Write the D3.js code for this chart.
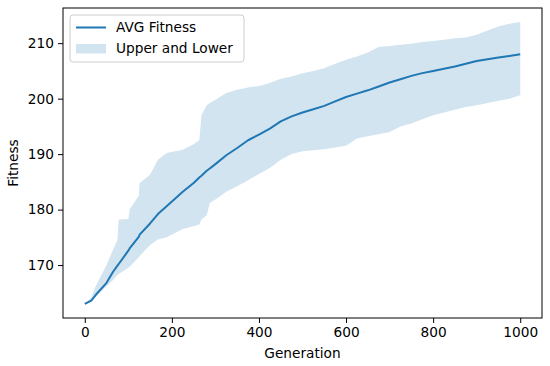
<!DOCTYPE html>
<html>
<head>
<meta charset="utf-8">
<script src="https://cdn.jsdelivr.net/npm/d3@7"></script>
<style>
  html, body { margin: 0; padding: 0; background: #fff; }
  text { font-family: "DejaVu Sans", sans-serif; }
</style>
</head>
<body>
<div id="chart"></div>
<script>
// generations (extra points where the band jumps)
const generations = [0, 15, 25, 50, 65, 75, 78, 100, 103, 124, 126, 150, 168, 188, 225, 250, 263, 268, 280, 287, 300,
  325, 350, 375, 400, 425, 450, 475, 500, 525, 550, 575, 600, 625, 650, 675, 700, 725, 750, 775, 800, 825, 850, 875, 900, 925, 950, 975, 1000];

const avgFitness = [163.0, 163.6, 164.6, 166.8, 168.8, 169.9, 170.2, 172.6, 173.0, 175.1, 175.5, 177.5, 179.2, 180.6, 183.2, 184.8, 185.8, 186.1, 187.0, 187.4, 188.2,
  189.8, 191.1, 192.5, 193.5, 194.6, 195.9, 196.8, 197.5, 198.1, 198.7, 199.5, 200.3, 200.9, 201.5, 202.2, 202.9, 203.5, 204.1, 204.6, 205.0, 205.4, 205.8, 206.3, 206.8, 207.1, 207.4, 207.7, 208.0];

const upperFitness = [163.0, 164.2, 166.2, 170.0, 172.8, 174.5, 178.2, 178.3, 180.0, 182.5, 184.8, 186.3, 189.0, 190.2, 190.8, 191.8, 192.5, 197.0, 198.8, 199.2, 199.8,
  201.0, 201.6, 202.0, 202.3, 202.8, 203.6, 204.0, 204.6, 205.0, 205.5, 206.3, 207.0, 207.6, 208.3, 209.3, 209.5, 209.7, 209.9, 210.2, 210.4, 210.6, 210.9, 211.0, 211.5, 212.3, 213.0, 213.5, 213.8];

const lowerFitness = [163.0, 163.5, 164.4, 166.2, 167.3, 168.2, 168.4, 169.5, 169.7, 171.4, 171.6, 173.6, 174.6, 175.0, 176.5, 177.0, 177.3, 178.2, 179.0, 181.2, 181.8,
  183.2, 184.2, 185.3, 186.4, 187.5, 189.0, 190.0, 190.5, 190.7, 190.9, 191.2, 191.5, 192.8, 193.2, 193.6, 194.0, 195.0, 195.5, 196.3, 197.0, 197.5, 198.0, 198.5, 198.8, 199.2, 199.6, 200.0, 200.6];

const xTicks = [0, 200, 400, 600, 800, 1000];
const yTicks = [170, 180, 190, 200, 210];

const Width = 550, Height = 366;
const Margin = { top: 8, right: 8, bottom: 48, left: 63 };
const innerW = Width - Margin.left - Margin.right;
const innerH = Height - Margin.top - Margin.bottom;
const Blue = '#1f77b4';
const FontSize = 13.7;

const Rows = generations.map((g, i) => ({ gen: g, avg: avgFitness[i], up: upperFitness[i], low: lowerFitness[i] }));

const Svg = d3.select('#chart').append('svg')
  .attr('width', Width)
  .attr('height', Height);

const G = Svg.append('g').attr('transform', `translate(${Margin.left},${Margin.top})`);

// matplotlib style 5% margins
const xMin = d3.min(generations), xMax = d3.max(generations);
const xPad = (xMax - xMin) * 0.05;
const xScale = d3.scaleLinear().domain([xMin - xPad, xMax + xPad]).range([0, innerW]);
const yMin = d3.min(lowerFitness), yMax = d3.max(upperFitness);
const yPad = (yMax - yMin) * 0.05;
const yScale = d3.scaleLinear().domain([yMin - yPad, yMax + yPad]).range([innerH, 0]);

const band = d3.area()
  .x(d => xScale(d.gen))
  .y0(d => yScale(d.low))
  .y1(d => yScale(d.up));

G.append('path')
  .datum(Rows)
  .attr('d', band)
  .attr('fill', Blue)
  .attr('fill-opacity', 0.2);

const line = d3.line()
  .x(d => xScale(d.gen))
  .y(d => yScale(d.avg));

G.append('path')
  .datum(Rows)
  .attr('d', line)
  .attr('fill', 'none')
  .attr('stroke', Blue)
  .attr('stroke-width', 2)
  .attr('stroke-linejoin', 'round');

// axes
const xAxis = G.append('g')
  .attr('transform', `translate(0,${innerH})`)
  .call(d3.axisBottom(xScale).tickValues(xTicks).tickSize(5).tickPadding(4).tickFormat(d3.format('d')));
const yAxis = G.append('g')
  .call(d3.axisLeft(yScale).tickValues(yTicks).tickSize(5).tickPadding(4).tickFormat(d3.format('d')));

[xAxis, yAxis].forEach(ax => {
  ax.select('.domain').remove();
  ax.selectAll('line').attr('stroke', '#000').attr('stroke-width', 1);
  ax.selectAll('text').attr('fill', '#000').style('font-size', `${FontSize}px`).style('font-family', '"DejaVu Sans", sans-serif');
});

// frame (spines)
G.append('rect')
  .attr('x', 0).attr('y', 0)
  .attr('width', innerW).attr('height', innerH)
  .attr('fill', 'none')
  .attr('stroke', '#000')
  .attr('stroke-width', 1);

// axis labels
Svg.append('text')
  .attr('x', Margin.left + innerW / 2)
  .attr('y', 358)
  .attr('text-anchor', 'middle')
  .style('font-size', `${FontSize}px`)
  .text('Generation');

Svg.append('text')
  .attr('transform', `translate(18,${Margin.top + innerH / 2}) rotate(-90)`)
  .attr('text-anchor', 'middle')
  .style('font-size', `${FontSize}px`)
  .text('Fitness');

// legend
const Legend = Svg.append('g').attr('transform', 'translate(70,15)');
Legend.append('rect')
  .attr('width', 174).attr('height', 47)
  .attr('rx', 3)
  .attr('fill', '#fff').attr('fill-opacity', 0.8)
  .attr('stroke', '#ccc');
Legend.append('line')
  .attr('x1', 6).attr('x2', 36)
  .attr('y1', 12.5).attr('y2', 12.5)
  .attr('stroke', Blue).attr('stroke-width', 2);
Legend.append('rect')
  .attr('x', 6).attr('y', 29)
  .attr('width', 30).attr('height', 9.5)
  .attr('fill', Blue).attr('fill-opacity', 0.2);
Legend.append('text')
  .attr('x', 46).attr('y', 12.5).attr('dy', '0.35em')
  .style('font-size', `${FontSize}px`)
  .text('AVG Fitness');
Legend.append('text')
  .attr('x', 46).attr('y', 33.5).attr('dy', '0.35em')
  .style('font-size', `${FontSize}px`)
  .text('Upper and Lower');
</script>
</body>
</html>
